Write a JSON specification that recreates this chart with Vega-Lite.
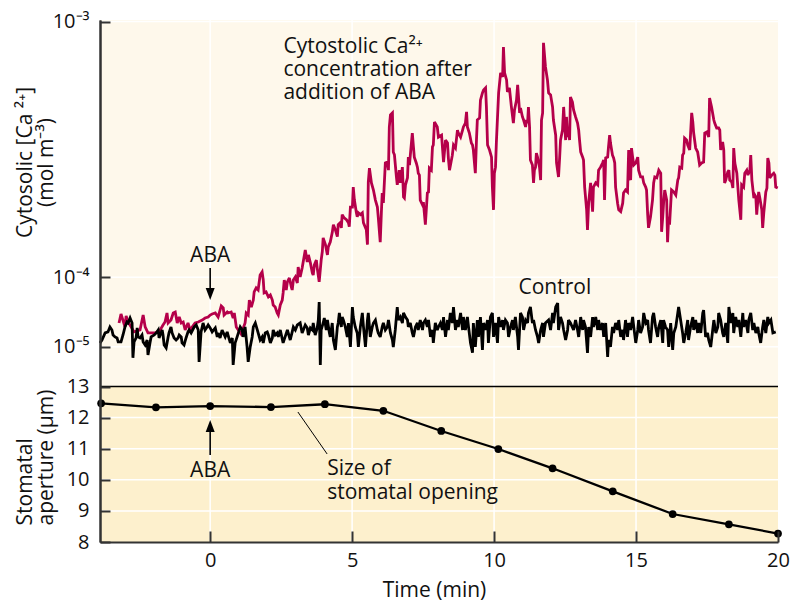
{
"$schema": "https://vega.github.io/schema/vega-lite/v6.json",
"width": 678, "height": 522,
"autosize": {"type": "none"},
"padding": {"left": 100, "top": 20, "right": 26, "bottom": 59},
"background": "#ffffff",
"config": {"view": {"fill": "#FEF8EB", "stroke": null}, "font": "Open Sans", "text": {"font": "Open Sans"}},
"datasets": {
"aba": [
{"t":-3.21,"ca":3.15e-5},{"t":-3.14,"ca":4.23e-5},{"t":-3.00,"ca":2.72e-5},{"t":-2.96,"ca":3.98e-5},{"t":-2.89,"ca":3.26e-5},{"t":-2.68,"ca":2.22e-5},{"t":-2.47,"ca":2.41e-5},{"t":-2.36,"ca":4.10e-5},{"t":-2.29,"ca":2.72e-5},{"t":-2.19,"ca":2.12e-5},{"t":-1.94,"ca":2.12e-5},{"t":-1.76,"ca":2.41e-5},{"t":-1.66,"ca":2.93e-5},{"t":-1.59,"ca":3.26e-5},{"t":-1.52,"ca":4.36e-5},{"t":-1.48,"ca":3.15e-5},{"t":-1.38,"ca":3.49e-5},{"t":-1.30,"ca":4.36e-5},{"t":-1.23,"ca":4.49e-5},{"t":-1.16,"ca":3.15e-5},{"t":-1.09,"ca":3.85e-5},{"t":-1.02,"ca":3.15e-5},{"t":-0.95,"ca":3.26e-5},{"t":-0.88,"ca":2.41e-5},{"t":-0.78,"ca":3.15e-5},{"t":-0.71,"ca":2.41e-5},{"t":-0.53,"ca":3.15e-5},{"t":-0.42,"ca":3.26e-5},{"t":-0.28,"ca":3.49e-5},{"t":-0.18,"ca":3.73e-5},{"t":-0.07,"ca":3.85e-5},{"t":0.00,"ca":4.10e-5},{"t":0.07,"ca":4.23e-5},{"t":0.18,"ca":4.36e-5},{"t":0.28,"ca":3.85e-5},{"t":0.39,"ca":5.30e-5},{"t":0.46,"ca":5.03e-5},{"t":0.49,"ca":4.10e-5},{"t":0.60,"ca":4.49e-5},{"t":0.63,"ca":4.36e-5},{"t":0.74,"ca":4.49e-5},{"t":0.81,"ca":3.73e-5},{"t":0.85,"ca":4.36e-5},{"t":0.92,"ca":2.72e-5},{"t":0.99,"ca":2.41e-5},{"t":1.09,"ca":2.02e-5},{"t":1.23,"ca":3.15e-5},{"t":1.27,"ca":4.36e-5},{"t":1.34,"ca":4.10e-5},{"t":1.38,"ca":6.17e-5},{"t":1.45,"ca":5.16e-5},{"t":1.52,"ca":6.17e-5},{"t":1.55,"ca":7.44e-5},{"t":1.62,"ca":8.10e-5},{"t":1.69,"ca":7.76e-5},{"t":1.76,"ca":10.4e-5},{"t":1.83,"ca":11.0e-5},{"t":1.87,"ca":9.49e-5},{"t":1.90,"ca":7.28e-5},{"t":1.97,"ca":7.44e-5},{"t":2.05,"ca":6.64e-5},{"t":2.12,"ca":6.95e-5},{"t":2.19,"ca":6.17e-5},{"t":2.22,"ca":5.44e-5},{"t":2.29,"ca":5.16e-5},{"t":2.36,"ca":4.36e-5},{"t":2.40,"ca":4.10e-5},{"t":2.47,"ca":5.44e-5},{"t":2.54,"ca":6.17e-5},{"t":2.57,"ca":7.28e-5},{"t":2.61,"ca":9.49e-5},{"t":2.68,"ca":7.76e-5},{"t":2.72,"ca":9.15e-5},{"t":2.79,"ca":9.87e-5},{"t":2.86,"ca":8.25e-5},{"t":2.89,"ca":7.76e-5},{"t":2.93,"ca":9.49e-5},{"t":3.00,"ca":10.05e-5},{"t":3.07,"ca":8.95e-5},{"t":3.10,"ca":11.97e-5},{"t":3.17,"ca":10.05e-5},{"t":3.24,"ca":11.77e-5},{"t":3.35,"ca":15.6e-5},{"t":3.42,"ca":13.0e-5},{"t":3.46,"ca":14.5e-5},{"t":3.53,"ca":12.8e-5},{"t":3.60,"ca":10.8e-5},{"t":3.63,"ca":10.4e-5},{"t":3.67,"ca":12.4e-5},{"t":3.74,"ca":13.4e-5},{"t":3.77,"ca":11.8e-5},{"t":3.84,"ca":9.15e-5},{"t":3.91,"ca":13.4e-5},{"t":3.95,"ca":15.2e-5},{"t":3.98,"ca":18.4e-5},{"t":4.06,"ca":16.8e-5},{"t":4.13,"ca":14.5e-5},{"t":4.16,"ca":16.3e-5},{"t":4.23,"ca":17.4e-5},{"t":4.30,"ca":19.7e-5},{"t":4.34,"ca":21.7e-5},{"t":4.41,"ca":20.4e-5},{"t":4.48,"ca":18.7e-5},{"t":4.51,"ca":21.7e-5},{"t":4.58,"ca":22.2e-5},{"t":4.62,"ca":20.9e-5},{"t":4.65,"ca":24.4e-5},{"t":4.72,"ca":23.5e-5},{"t":4.80,"ca":23.0e-5},{"t":4.87,"ca":22.2e-5},{"t":4.90,"ca":21.2e-5},{"t":4.94,"ca":26.5e-5},{"t":5.01,"ca":26.5e-5},{"t":5.04,"ca":32.4e-5},{"t":5.08,"ca":28.5e-5},{"t":5.15,"ca":24.9e-5},{"t":5.18,"ca":23.8e-5},{"t":5.22,"ca":24.9e-5},{"t":5.29,"ca":24.4e-5},{"t":5.36,"ca":24.9e-5},{"t":5.40,"ca":22.2e-5},{"t":5.50,"ca":20.4e-5},{"t":5.54,"ca":16.8e-5},{"t":5.57,"ca":34.0e-5},{"t":5.61,"ca":38.5e-5},{"t":5.68,"ca":33.7e-5},{"t":5.75,"ca":31.5e-5},{"t":5.82,"ca":28.5e-5},{"t":5.89,"ca":26.5e-5},{"t":5.92,"ca":23.8e-5},{"t":5.99,"ca":17.4e-5},{"t":6.03,"ca":24.9e-5},{"t":6.06,"ca":30.6e-5},{"t":6.10,"ca":27.7e-5},{"t":6.17,"ca":40.2e-5},{"t":6.24,"ca":40.5e-5},{"t":6.28,"ca":37.8e-5},{"t":6.31,"ca":53.2e-5},{"t":6.35,"ca":57.9e-5},{"t":6.42,"ca":58.7e-5},{"t":6.45,"ca":44.0e-5},{"t":6.49,"ca":43.0e-5},{"t":6.56,"ca":35.6e-5},{"t":6.59,"ca":33.1e-5},{"t":6.63,"ca":35.6e-5},{"t":6.66,"ca":37.8e-5},{"t":6.70,"ca":33.7e-5},{"t":6.77,"ca":38.8e-5},{"t":6.81,"ca":29.4e-5},{"t":6.84,"ca":29.1e-5},{"t":6.88,"ca":33.1e-5},{"t":6.95,"ca":35.3e-5},{"t":6.98,"ca":42.2e-5},{"t":7.02,"ca":39.5e-5},{"t":7.05,"ca":42.9e-5},{"t":7.12,"ca":50.9e-5},{"t":7.16,"ca":45.8e-5},{"t":7.19,"ca":42.2e-5},{"t":7.26,"ca":40.2e-5},{"t":7.30,"ca":38.8e-5},{"t":7.33,"ca":36.8e-5},{"t":7.37,"ca":36.2e-5},{"t":7.40,"ca":28.5e-5},{"t":7.48,"ca":27.1e-5},{"t":7.51,"ca":27.9e-5},{"t":7.58,"ca":21.7e-5},{"t":7.65,"ca":30.6e-5},{"t":7.69,"ca":30.9e-5},{"t":7.72,"ca":38.5e-5},{"t":7.79,"ca":37.8e-5},{"t":7.83,"ca":45.8e-5},{"t":7.86,"ca":46.5e-5},{"t":7.90,"ca":55.1e-5},{"t":8.00,"ca":53.2e-5},{"t":8.04,"ca":49.4e-5},{"t":8.15,"ca":50.1e-5},{"t":8.22,"ca":40.5e-5},{"t":8.29,"ca":48.3e-5},{"t":8.36,"ca":47.2e-5},{"t":8.39,"ca":41.9e-5},{"t":8.43,"ca":37.8e-5},{"t":8.53,"ca":42.9e-5},{"t":8.57,"ca":46.5e-5},{"t":8.64,"ca":45.4e-5},{"t":8.71,"ca":52.0e-5},{"t":8.74,"ca":50.9e-5},{"t":8.82,"ca":49.4e-5},{"t":8.89,"ca":52.0e-5},{"t":8.92,"ca":53.2e-5},{"t":8.99,"ca":54.7e-5},{"t":9.03,"ca":59.1e-5},{"t":9.06,"ca":53.2e-5},{"t":9.13,"ca":50.9e-5},{"t":9.20,"ca":47.2e-5},{"t":9.24,"ca":46.5e-5},{"t":9.27,"ca":44.7e-5},{"t":9.34,"ca":36.8e-5},{"t":9.38,"ca":48.3e-5},{"t":9.41,"ca":55.9e-5},{"t":9.49,"ca":56.7e-5},{"t":9.52,"ca":63.9e-5},{"t":9.59,"ca":66.9e-5},{"t":9.63,"ca":68.2e-5},{"t":9.70,"ca":69.1e-5},{"t":9.73,"ca":61.1e-5},{"t":9.77,"ca":46.5e-5},{"t":9.84,"ca":44.7e-5},{"t":9.91,"ca":42.2e-5},{"t":9.94,"ca":32.4e-5},{"t":9.98,"ca":25.7e-5},{"t":10.01,"ca":36.8e-5},{"t":10.05,"ca":38.8e-5},{"t":10.08,"ca":47.2e-5},{"t":10.16,"ca":66.9e-5},{"t":10.23,"ca":75.6e-5},{"t":10.30,"ca":73.8e-5},{"t":10.33,"ca":87.5e-5},{"t":10.37,"ca":75.6e-5},{"t":10.44,"ca":72.5e-5},{"t":10.47,"ca":67.3e-5},{"t":10.54,"ca":69.1e-5},{"t":10.61,"ca":61.1e-5},{"t":10.68,"ca":54.7e-5},{"t":10.72,"ca":59.9e-5},{"t":10.79,"ca":63.9e-5},{"t":10.83,"ca":70.4e-5},{"t":10.90,"ca":58.7e-5},{"t":10.93,"ca":60.7e-5},{"t":11.00,"ca":57.1e-5},{"t":11.04,"ca":55.9e-5},{"t":11.11,"ca":53.2e-5},{"t":11.14,"ca":55.9e-5},{"t":11.18,"ca":54.7e-5},{"t":11.21,"ca":61.1e-5},{"t":11.25,"ca":53.2e-5},{"t":11.28,"ca":41.2e-5},{"t":11.35,"ca":39.5e-5},{"t":11.39,"ca":33.7e-5},{"t":11.42,"ca":37.8e-5},{"t":11.46,"ca":38.8e-5},{"t":11.49,"ca":43.6e-5},{"t":11.53,"ca":42.2e-5},{"t":11.60,"ca":38.8e-5},{"t":11.64,"ca":34.6e-5},{"t":11.67,"ca":55.9e-5},{"t":11.71,"ca":58.7e-5},{"t":11.74,"ca":89.5e-5},{"t":11.81,"ca":78.3e-5},{"t":11.88,"ca":72.5e-5},{"t":11.92,"ca":66.9e-5},{"t":11.99,"ca":66.1e-5},{"t":12.06,"ca":61.1e-5},{"t":12.09,"ca":55.9e-5},{"t":12.17,"ca":50.1e-5},{"t":12.20,"ca":40.2e-5},{"t":12.27,"ca":35.6e-5},{"t":12.31,"ca":42.2e-5},{"t":12.34,"ca":48.3e-5},{"t":12.41,"ca":52.0e-5},{"t":12.45,"ca":61.1e-5},{"t":12.52,"ca":48.3e-5},{"t":12.55,"ca":57.1e-5},{"t":12.59,"ca":49.4e-5},{"t":12.62,"ca":51.3e-5},{"t":12.66,"ca":48.3e-5},{"t":12.69,"ca":65.2e-5},{"t":12.76,"ca":63.1e-5},{"t":12.80,"ca":59.9e-5},{"t":12.87,"ca":57.1e-5},{"t":12.94,"ca":54.7e-5},{"t":12.98,"ca":52.0e-5},{"t":13.01,"ca":48.3e-5},{"t":13.05,"ca":44.0e-5},{"t":13.12,"ca":42.2e-5},{"t":13.15,"ca":41.2e-5},{"t":13.19,"ca":32.4e-5},{"t":13.26,"ca":25.7e-5},{"t":13.29,"ca":20.4e-5},{"t":13.33,"ca":27.6e-5},{"t":13.40,"ca":33.7e-5},{"t":13.47,"ca":25.2e-5},{"t":13.50,"ca":32.4e-5},{"t":13.58,"ca":33.7e-5},{"t":13.65,"ca":33.1e-5},{"t":13.68,"ca":37.8e-5},{"t":13.75,"ca":38.8e-5},{"t":13.82,"ca":40.2e-5},{"t":13.86,"ca":41.2e-5},{"t":13.89,"ca":28.5e-5},{"t":13.93,"ca":41.9e-5},{"t":14.00,"ca":42.2e-5},{"t":14.03,"ca":45.8e-5},{"t":14.07,"ca":50.1e-5},{"t":14.10,"ca":47.2e-5},{"t":14.17,"ca":42.9e-5},{"t":14.21,"ca":41.9e-5},{"t":14.25,"ca":40.2e-5},{"t":14.28,"ca":32.4e-5},{"t":14.35,"ca":27.6e-5},{"t":14.39,"ca":25.7e-5},{"t":14.46,"ca":25.2e-5},{"t":14.53,"ca":27.6e-5},{"t":14.56,"ca":30.6e-5},{"t":14.63,"ca":31.5e-5},{"t":14.70,"ca":30.9e-5},{"t":14.74,"ca":44.7e-5},{"t":14.77,"ca":35.6e-5},{"t":14.81,"ca":34.6e-5},{"t":14.84,"ca":45.4e-5},{"t":14.88,"ca":42.2e-5},{"t":14.92,"ca":39.5e-5},{"t":14.99,"ca":40.2e-5},{"t":15.06,"ca":42.2e-5},{"t":15.09,"ca":37.8e-5},{"t":15.16,"ca":35.6e-5},{"t":15.23,"ca":35.6e-5},{"t":15.27,"ca":33.7e-5},{"t":15.34,"ca":32.4e-5},{"t":15.37,"ca":31.5e-5},{"t":15.41,"ca":24.4e-5},{"t":15.44,"ca":20.9e-5},{"t":15.51,"ca":23.8e-5},{"t":15.58,"ca":28.5e-5},{"t":15.62,"ca":33.7e-5},{"t":15.66,"ca":35.6e-5},{"t":15.73,"ca":35.3e-5},{"t":15.80,"ca":37.8e-5},{"t":15.87,"ca":36.8e-5},{"t":15.90,"ca":19.9e-5},{"t":15.94,"ca":23.8e-5},{"t":15.97,"ca":27.6e-5},{"t":16.01,"ca":31.5e-5},{"t":16.08,"ca":28.5e-5},{"t":16.11,"ca":17.4e-5},{"t":16.15,"ca":23.8e-5},{"t":16.18,"ca":21.7e-5},{"t":16.25,"ca":31.5e-5},{"t":16.33,"ca":30.9e-5},{"t":16.40,"ca":30.0e-5},{"t":16.47,"ca":34.6e-5},{"t":16.50,"ca":35.3e-5},{"t":16.54,"ca":38.8e-5},{"t":16.61,"ca":38.5e-5},{"t":16.64,"ca":42.9e-5},{"t":16.68,"ca":43.6e-5},{"t":16.71,"ca":49.0e-5},{"t":16.78,"ca":48.3e-5},{"t":16.82,"ca":46.5e-5},{"t":16.89,"ca":44.7e-5},{"t":16.96,"ca":58.7e-5},{"t":17.00,"ca":55.1e-5},{"t":17.03,"ca":50.9e-5},{"t":17.10,"ca":45.4e-5},{"t":17.17,"ca":44.0e-5},{"t":17.24,"ca":39.5e-5},{"t":17.31,"ca":40.2e-5},{"t":17.38,"ca":40.5e-5},{"t":17.42,"ca":50.9e-5},{"t":17.49,"ca":51.3e-5},{"t":17.56,"ca":49.4e-5},{"t":17.59,"ca":64.8e-5},{"t":17.66,"ca":61.1e-5},{"t":17.74,"ca":55.9e-5},{"t":17.77,"ca":54.7e-5},{"t":17.84,"ca":52.8e-5},{"t":17.91,"ca":52.8e-5},{"t":17.95,"ca":52.0e-5},{"t":17.98,"ca":44.7e-5},{"t":18.05,"ca":47.6e-5},{"t":18.09,"ca":44.7e-5},{"t":18.12,"ca":33.7e-5},{"t":18.16,"ca":34.6e-5},{"t":18.23,"ca":37.2e-5},{"t":18.27,"ca":37.8e-5},{"t":18.30,"ca":34.6e-5},{"t":18.37,"ca":34.0e-5},{"t":18.41,"ca":32.1e-5},{"t":18.44,"ca":45.4e-5},{"t":18.48,"ca":40.2e-5},{"t":18.55,"ca":36.8e-5},{"t":18.62,"ca":28.5e-5},{"t":18.69,"ca":23.0e-5},{"t":18.72,"ca":33.1e-5},{"t":18.79,"ca":32.4e-5},{"t":18.83,"ca":36.8e-5},{"t":18.90,"ca":37.8e-5},{"t":18.94,"ca":36.2e-5},{"t":19.01,"ca":37.8e-5},{"t":19.04,"ca":42.9e-5},{"t":19.08,"ca":34.6e-5},{"t":19.15,"ca":29.1e-5},{"t":19.18,"ca":30.0e-5},{"t":19.22,"ca":29.4e-5},{"t":19.25,"ca":24.4e-5},{"t":19.29,"ca":28.5e-5},{"t":19.32,"ca":30.9e-5},{"t":19.36,"ca":29.1e-5},{"t":19.43,"ca":25.7e-5},{"t":19.46,"ca":20.9e-5},{"t":19.50,"ca":24.9e-5},{"t":19.57,"ca":30.9e-5},{"t":19.61,"ca":32.1e-5},{"t":19.64,"ca":41.9e-5},{"t":19.68,"ca":40.2e-5},{"t":19.71,"ca":35.3e-5},{"t":19.78,"ca":36.2e-5},{"t":19.85,"ca":36.8e-5},{"t":19.89,"ca":36.2e-5},{"t":19.92,"ca":32.4e-5},{"t":19.99,"ca":32.1e-5}
],
"control": [
{"t":-3.88,"ca":1.27e-5},{"t":-3.81,"ca":1.50e-5},{"t":-3.70,"ca":2.12e-5},{"t":-3.60,"ca":2.22e-5},{"t":-3.53,"ca":2.72e-5},{"t":-3.46,"ca":2.41e-5},{"t":-3.42,"ca":1.93e-5},{"t":-3.35,"ca":1.76e-5},{"t":-3.28,"ca":1.67e-5},{"t":-3.24,"ca":1.35e-5},{"t":-3.14,"ca":1.35e-5},{"t":-3.07,"ca":1.93e-5},{"t":-3.00,"ca":2.72e-5},{"t":-2.93,"ca":3.26e-5},{"t":-2.89,"ca":3.15e-5},{"t":-2.82,"ca":3.73e-5},{"t":-2.75,"ca":3.15e-5},{"t":-2.72,"ca":0.37e-5},{"t":-2.68,"ca":1.35e-5},{"t":-2.61,"ca":1.67e-5},{"t":-2.57,"ca":2.62e-5},{"t":-2.54,"ca":1.76e-5},{"t":-2.47,"ca":1.67e-5},{"t":-2.40,"ca":1.93e-5},{"t":-2.36,"ca":1.35e-5},{"t":-2.29,"ca":1.12e-5},{"t":-2.22,"ca":1.50e-5},{"t":-2.19,"ca":0.505e-5},{"t":-2.12,"ca":1.27e-5},{"t":-2.08,"ca":1.76e-5},{"t":-1.97,"ca":1.93e-5},{"t":-1.90,"ca":2.12e-5},{"t":-1.83,"ca":2.41e-5},{"t":-1.80,"ca":1.67e-5},{"t":-1.76,"ca":1.93e-5},{"t":-1.69,"ca":2.41e-5},{"t":-1.66,"ca":1.93e-5},{"t":-1.62,"ca":1.12e-5},{"t":-1.55,"ca":0.92e-5},{"t":-1.48,"ca":1.76e-5},{"t":-1.45,"ca":2.12e-5},{"t":-1.38,"ca":2.72e-5},{"t":-1.34,"ca":2.12e-5},{"t":-1.27,"ca":1.67e-5},{"t":-1.20,"ca":1.50e-5},{"t":-1.13,"ca":1.67e-5},{"t":-1.09,"ca":1.93e-5},{"t":-1.02,"ca":1.76e-5},{"t":-0.99,"ca":1.27e-5},{"t":-0.92,"ca":1.12e-5},{"t":-0.85,"ca":1.67e-5},{"t":-0.78,"ca":2.22e-5},{"t":-0.74,"ca":2.41e-5},{"t":-0.67,"ca":2.12e-5},{"t":-0.56,"ca":2.72e-5},{"t":-0.49,"ca":2.93e-5},{"t":-0.42,"ca":2.41e-5},{"t":-0.39,"ca":0.21e-5},{"t":-0.32,"ca":2.22e-5},{"t":-0.25,"ca":3.15e-5},{"t":-0.18,"ca":2.41e-5},{"t":-0.11,"ca":2.72e-5},{"t":-0.07,"ca":2.93e-5},{"t":0.00,"ca":2.62e-5},{"t":0.07,"ca":2.22e-5},{"t":0.18,"ca":2.62e-5},{"t":0.25,"ca":1.76e-5},{"t":0.28,"ca":2.12e-5},{"t":0.35,"ca":1.67e-5},{"t":0.42,"ca":2.41e-5},{"t":0.53,"ca":1.76e-5},{"t":0.60,"ca":2.22e-5},{"t":0.63,"ca":1.93e-5},{"t":0.71,"ca":1.27e-5},{"t":0.78,"ca":1.67e-5},{"t":0.81,"ca":0.115e-5},{"t":0.88,"ca":1.27e-5},{"t":0.95,"ca":1.76e-5},{"t":1.06,"ca":2.72e-5},{"t":1.13,"ca":2.41e-5},{"t":1.16,"ca":1.76e-5},{"t":1.23,"ca":2.72e-5},{"t":1.30,"ca":0.98e-5},{"t":1.34,"ca":0.21e-5},{"t":1.41,"ca":0.98e-5},{"t":1.48,"ca":1.76e-5},{"t":1.52,"ca":2.72e-5},{"t":1.59,"ca":3.15e-5},{"t":1.66,"ca":2.41e-5},{"t":1.76,"ca":1.50e-5},{"t":1.83,"ca":1.76e-5},{"t":1.87,"ca":1.27e-5},{"t":1.94,"ca":2.12e-5},{"t":2.01,"ca":2.22e-5},{"t":2.05,"ca":1.93e-5},{"t":2.12,"ca":1.27e-5},{"t":2.19,"ca":1.67e-5},{"t":2.22,"ca":2.41e-5},{"t":2.29,"ca":1.93e-5},{"t":2.36,"ca":2.12e-5},{"t":2.40,"ca":1.76e-5},{"t":2.47,"ca":2.41e-5},{"t":2.57,"ca":1.27e-5},{"t":2.64,"ca":1.76e-5},{"t":2.72,"ca":2.41e-5},{"t":2.82,"ca":1.50e-5},{"t":2.89,"ca":2.22e-5},{"t":2.93,"ca":2.72e-5},{"t":3.00,"ca":2.41e-5},{"t":3.07,"ca":2.93e-5},{"t":3.17,"ca":3.15e-5},{"t":3.24,"ca":2.12e-5},{"t":3.35,"ca":2.93e-5},{"t":3.42,"ca":2.62e-5},{"t":3.46,"ca":1.93e-5},{"t":3.53,"ca":2.62e-5},{"t":3.60,"ca":2.41e-5},{"t":3.63,"ca":3.15e-5},{"t":3.70,"ca":1.93e-5},{"t":3.77,"ca":2.62e-5},{"t":3.81,"ca":3.49e-5},{"t":3.84,"ca":5.88e-5},{"t":3.88,"ca":0.115e-5},{"t":3.91,"ca":2.41e-5},{"t":3.98,"ca":3.15e-5},{"t":4.02,"ca":3.73e-5},{"t":4.09,"ca":2.41e-5},{"t":4.13,"ca":3.49e-5},{"t":4.20,"ca":2.12e-5},{"t":4.23,"ca":1.76e-5},{"t":4.30,"ca":3.15e-5},{"t":4.34,"ca":1.50e-5},{"t":4.41,"ca":0.785e-5},{"t":4.48,"ca":2.72e-5},{"t":4.51,"ca":3.15e-5},{"t":4.55,"ca":4.36e-5},{"t":4.62,"ca":2.72e-5},{"t":4.65,"ca":3.85e-5},{"t":4.69,"ca":3.49e-5},{"t":4.76,"ca":2.72e-5},{"t":4.83,"ca":1.76e-5},{"t":4.87,"ca":3.15e-5},{"t":4.94,"ca":0.98e-5},{"t":5.01,"ca":5.16e-5},{"t":5.04,"ca":3.85e-5},{"t":5.11,"ca":2.72e-5},{"t":5.18,"ca":2.12e-5},{"t":5.22,"ca":0.98e-5},{"t":5.29,"ca":2.72e-5},{"t":5.36,"ca":4.36e-5},{"t":5.40,"ca":2.72e-5},{"t":5.47,"ca":0.98e-5},{"t":5.54,"ca":3.49e-5},{"t":5.57,"ca":4.36e-5},{"t":5.64,"ca":1.76e-5},{"t":5.71,"ca":2.72e-5},{"t":5.75,"ca":3.15e-5},{"t":5.82,"ca":3.49e-5},{"t":5.89,"ca":2.41e-5},{"t":5.92,"ca":2.12e-5},{"t":5.99,"ca":1.76e-5},{"t":6.06,"ca":2.72e-5},{"t":6.10,"ca":3.15e-5},{"t":6.17,"ca":2.41e-5},{"t":6.24,"ca":2.72e-5},{"t":6.28,"ca":3.49e-5},{"t":6.35,"ca":2.12e-5},{"t":6.42,"ca":1.50e-5},{"t":6.45,"ca":0.98e-5},{"t":6.52,"ca":2.41e-5},{"t":6.59,"ca":5.16e-5},{"t":6.63,"ca":3.49e-5},{"t":6.70,"ca":3.85e-5},{"t":6.77,"ca":3.15e-5},{"t":6.81,"ca":4.36e-5},{"t":6.88,"ca":3.85e-5},{"t":6.95,"ca":3.49e-5},{"t":6.98,"ca":2.72e-5},{"t":7.05,"ca":3.15e-5},{"t":7.12,"ca":2.12e-5},{"t":7.16,"ca":1.76e-5},{"t":7.23,"ca":2.72e-5},{"t":7.30,"ca":3.15e-5},{"t":7.33,"ca":2.41e-5},{"t":7.40,"ca":3.49e-5},{"t":7.48,"ca":2.41e-5},{"t":7.51,"ca":3.15e-5},{"t":7.58,"ca":3.49e-5},{"t":7.65,"ca":2.72e-5},{"t":7.69,"ca":3.49e-5},{"t":7.76,"ca":1.76e-5},{"t":7.83,"ca":2.41e-5},{"t":7.86,"ca":1.27e-5},{"t":7.93,"ca":3.15e-5},{"t":8.00,"ca":2.41e-5},{"t":8.04,"ca":2.72e-5},{"t":8.11,"ca":3.15e-5},{"t":8.18,"ca":2.41e-5},{"t":8.22,"ca":3.85e-5},{"t":8.29,"ca":1.76e-5},{"t":8.36,"ca":3.49e-5},{"t":8.39,"ca":2.41e-5},{"t":8.46,"ca":4.36e-5},{"t":8.53,"ca":3.15e-5},{"t":8.57,"ca":5.16e-5},{"t":8.64,"ca":2.41e-5},{"t":8.71,"ca":3.49e-5},{"t":8.74,"ca":2.72e-5},{"t":8.82,"ca":4.36e-5},{"t":8.89,"ca":2.41e-5},{"t":8.92,"ca":3.85e-5},{"t":8.99,"ca":2.41e-5},{"t":9.06,"ca":3.85e-5},{"t":9.10,"ca":2.72e-5},{"t":9.17,"ca":1.27e-5},{"t":9.24,"ca":0.62e-5},{"t":9.27,"ca":3.15e-5},{"t":9.34,"ca":0.98e-5},{"t":9.41,"ca":3.49e-5},{"t":9.45,"ca":1.76e-5},{"t":9.52,"ca":3.85e-5},{"t":9.59,"ca":0.785e-5},{"t":9.63,"ca":3.15e-5},{"t":9.70,"ca":2.41e-5},{"t":9.77,"ca":3.49e-5},{"t":9.80,"ca":1.27e-5},{"t":9.87,"ca":3.85e-5},{"t":9.94,"ca":4.36e-5},{"t":9.98,"ca":1.76e-5},{"t":10.05,"ca":3.15e-5},{"t":10.12,"ca":1.27e-5},{"t":10.16,"ca":3.85e-5},{"t":10.23,"ca":2.72e-5},{"t":10.30,"ca":3.49e-5},{"t":10.33,"ca":2.41e-5},{"t":10.40,"ca":3.49e-5},{"t":10.47,"ca":3.15e-5},{"t":10.51,"ca":1.76e-5},{"t":10.58,"ca":2.72e-5},{"t":10.65,"ca":3.49e-5},{"t":10.68,"ca":2.41e-5},{"t":10.75,"ca":3.85e-5},{"t":10.83,"ca":1.76e-5},{"t":10.86,"ca":0.785e-5},{"t":10.93,"ca":4.36e-5},{"t":11.00,"ca":3.85e-5},{"t":11.04,"ca":2.41e-5},{"t":11.11,"ca":3.49e-5},{"t":11.18,"ca":3.15e-5},{"t":11.21,"ca":4.36e-5},{"t":11.28,"ca":5.16e-5},{"t":11.35,"ca":3.15e-5},{"t":11.39,"ca":3.49e-5},{"t":11.46,"ca":2.41e-5},{"t":11.53,"ca":1.76e-5},{"t":11.57,"ca":1.27e-5},{"t":11.64,"ca":2.41e-5},{"t":11.71,"ca":3.15e-5},{"t":11.74,"ca":1.76e-5},{"t":11.81,"ca":3.15e-5},{"t":11.92,"ca":3.49e-5},{"t":11.99,"ca":2.41e-5},{"t":12.06,"ca":4.36e-5},{"t":12.09,"ca":3.15e-5},{"t":12.17,"ca":5.16e-5},{"t":12.24,"ca":5.73e-5},{"t":12.27,"ca":2.41e-5},{"t":12.34,"ca":3.85e-5},{"t":12.41,"ca":3.15e-5},{"t":12.45,"ca":2.41e-5},{"t":12.52,"ca":1.50e-5},{"t":12.59,"ca":2.41e-5},{"t":12.62,"ca":3.49e-5},{"t":12.69,"ca":3.15e-5},{"t":12.80,"ca":2.41e-5},{"t":12.87,"ca":3.49e-5},{"t":12.94,"ca":2.41e-5},{"t":12.98,"ca":1.76e-5},{"t":13.05,"ca":3.85e-5},{"t":13.12,"ca":2.41e-5},{"t":13.15,"ca":3.49e-5},{"t":13.22,"ca":2.72e-5},{"t":13.29,"ca":0.62e-5},{"t":13.33,"ca":2.72e-5},{"t":13.40,"ca":1.76e-5},{"t":13.47,"ca":3.85e-5},{"t":13.50,"ca":2.72e-5},{"t":13.58,"ca":3.85e-5},{"t":13.65,"ca":2.41e-5},{"t":13.68,"ca":3.49e-5},{"t":13.75,"ca":2.41e-5},{"t":13.82,"ca":3.15e-5},{"t":13.86,"ca":1.76e-5},{"t":13.93,"ca":3.15e-5},{"t":14.00,"ca":0.41e-5},{"t":14.03,"ca":1.50e-5},{"t":14.10,"ca":0.98e-5},{"t":14.17,"ca":2.72e-5},{"t":14.21,"ca":2.12e-5},{"t":14.28,"ca":3.15e-5},{"t":14.35,"ca":2.41e-5},{"t":14.39,"ca":3.49e-5},{"t":14.46,"ca":1.76e-5},{"t":14.53,"ca":2.41e-5},{"t":14.56,"ca":1.50e-5},{"t":14.63,"ca":3.49e-5},{"t":14.70,"ca":1.76e-5},{"t":14.74,"ca":3.15e-5},{"t":14.81,"ca":2.41e-5},{"t":14.88,"ca":3.85e-5},{"t":14.92,"ca":2.72e-5},{"t":14.99,"ca":1.27e-5},{"t":15.06,"ca":2.41e-5},{"t":15.09,"ca":3.49e-5},{"t":15.16,"ca":2.12e-5},{"t":15.23,"ca":2.72e-5},{"t":15.27,"ca":4.36e-5},{"t":15.34,"ca":3.15e-5},{"t":15.41,"ca":3.49e-5},{"t":15.44,"ca":2.41e-5},{"t":15.51,"ca":1.27e-5},{"t":15.58,"ca":3.85e-5},{"t":15.62,"ca":4.36e-5},{"t":15.69,"ca":2.72e-5},{"t":15.76,"ca":1.76e-5},{"t":15.80,"ca":2.72e-5},{"t":15.87,"ca":3.49e-5},{"t":15.94,"ca":1.27e-5},{"t":15.97,"ca":3.49e-5},{"t":16.04,"ca":2.72e-5},{"t":16.11,"ca":2.41e-5},{"t":16.15,"ca":0.98e-5},{"t":16.22,"ca":3.15e-5},{"t":16.29,"ca":0.785e-5},{"t":16.33,"ca":2.12e-5},{"t":16.40,"ca":2.72e-5},{"t":16.47,"ca":4.36e-5},{"t":16.50,"ca":5.16e-5},{"t":16.57,"ca":3.49e-5},{"t":16.64,"ca":2.12e-5},{"t":16.68,"ca":1.27e-5},{"t":16.75,"ca":2.12e-5},{"t":16.82,"ca":3.49e-5},{"t":16.85,"ca":1.50e-5},{"t":16.92,"ca":2.72e-5},{"t":17.00,"ca":3.85e-5},{"t":17.03,"ca":2.41e-5},{"t":17.10,"ca":3.49e-5},{"t":17.17,"ca":2.12e-5},{"t":17.21,"ca":3.15e-5},{"t":17.28,"ca":2.12e-5},{"t":17.35,"ca":4.36e-5},{"t":17.38,"ca":4.75e-5},{"t":17.45,"ca":1.76e-5},{"t":17.52,"ca":2.12e-5},{"t":17.56,"ca":1.50e-5},{"t":17.63,"ca":0.98e-5},{"t":17.70,"ca":2.41e-5},{"t":17.74,"ca":3.49e-5},{"t":17.81,"ca":2.12e-5},{"t":17.88,"ca":2.72e-5},{"t":17.91,"ca":4.36e-5},{"t":17.98,"ca":3.49e-5},{"t":18.05,"ca":2.12e-5},{"t":18.09,"ca":1.76e-5},{"t":18.16,"ca":3.15e-5},{"t":18.23,"ca":1.27e-5},{"t":18.27,"ca":5.16e-5},{"t":18.34,"ca":3.15e-5},{"t":18.41,"ca":4.36e-5},{"t":18.44,"ca":2.12e-5},{"t":18.51,"ca":3.85e-5},{"t":18.58,"ca":2.72e-5},{"t":18.62,"ca":3.49e-5},{"t":18.69,"ca":1.76e-5},{"t":18.76,"ca":4.36e-5},{"t":18.79,"ca":2.72e-5},{"t":18.86,"ca":3.49e-5},{"t":18.94,"ca":2.12e-5},{"t":18.97,"ca":3.49e-5},{"t":19.04,"ca":4.36e-5},{"t":19.11,"ca":2.41e-5},{"t":19.15,"ca":3.15e-5},{"t":19.22,"ca":2.12e-5},{"t":19.29,"ca":2.72e-5},{"t":19.32,"ca":2.12e-5},{"t":19.39,"ca":1.27e-5},{"t":19.46,"ca":2.72e-5},{"t":19.50,"ca":3.49e-5},{"t":19.57,"ca":2.12e-5},{"t":19.64,"ca":3.85e-5},{"t":19.68,"ca":3.15e-5},{"t":19.75,"ca":3.49e-5},{"t":19.82,"ca":2.12e-5},{"t":19.92,"ca":2.22e-5}
],
"stomata": [
{"t":-3.84,"ap":12.46},{"t":-1.91,"ap":12.33},{"t":0.0,"ap":12.37},{"t":2.14,"ap":12.34},{"t":4.04,"ap":12.43},{"t":6.1,"ap":12.22},{"t":8.14,"ap":11.57},{"t":10.15,"ap":10.99},{"t":12.06,"ap":10.37},{"t":14.18,"ap":9.63},{"t":16.29,"ap":8.9},{"t":18.27,"ap":8.57},{"t":20.0,"ap":8.27}
],
"xgrid": [{"t":0},{"t":5},{"t":10},{"t":15}],
"topgrid": [{"ca":1e-5},{"ca":1e-4},{"ca":1e-3}],
"botgrid": [{"ap":9},{"ap":10},{"ap":11},{"ap":12}],
"topNotesL": [
{"t":2.58,"ca":8.47e-4,"label":"Cytostolic Ca²⁺\nconcentration after\naddition of ABA"},
{"t":10.86,"ca":7.11e-5,"label":"Control"}
],
"topNotesC": [{"t":0,"ca":1.30e-4,"label":"ABA"}],
"botNotesL": [
{"t":4.12,"ap":10.15,"label":"Size of\nstomatal opening"}
],
"botNotesC": [{"t":0,"ap":10.10,"label":"ABA"}]
},
"layer": [
{
"layer": [
{"data": {"values": [{}]}, "mark": {"type": "rect", "fill": "#FDF0CD"},
 "encoding": {"x": {"datum": -3.88, "type": "quantitative"}, "x2": {"datum": 20}, "y": {"datum": 8, "type": "quantitative"}, "y2": {"datum": 13}}},
{"data": {"name": "xgrid"}, "mark": {"type": "rule", "stroke": "#ffffff", "strokeWidth": 1.5},
 "encoding": {"x": {"field": "t", "type": "quantitative"}}},
{"data": {"name": "botgrid"}, "mark": {"type": "rule", "stroke": "#ffffff", "strokeWidth": 1.5},
 "encoding": {"y": {"field": "ap", "type": "quantitative"}}},
{"data": {"values": [{}]}, "mark": {"type": "rule", "stroke": "#000000", "strokeWidth": 1.5},
 "encoding": {"y": {"datum": 13, "type": "quantitative"}}},
{"data": {"name": "stomata"}, "mark": {"type": "line", "stroke": "#000000", "strokeWidth": 2.3},
 "encoding": {
  "x": {"field": "t", "type": "quantitative", "title": "Time (min)",
   "scale": {"domain": [-3.88, 20], "nice": false, "zero": false},
   "axis": {"values": [0, 5, 10, 15, 20], "grid": false, "zindex": 1, "labelFlush": false, "labelOverlap": false,
    "domainColor": "#333333", "domainWidth": 2, "tickColor": "#333333", "tickWidth": 2, "tickSize": -11,
    "labelPadding": 19, "labelFontSize": 20, "labelColor": "#111111", "labelFont": "Open Sans",
    "titleFontSize": 21, "titleFontWeight": "normal", "titleColor": "#111111", "titleFont": "Open Sans",
    "titleBaseline": "alphabetic", "titleAlign": "center", "titleX": 334, "titleY": 54}},
  "y": {"field": "ap", "type": "quantitative", "title": ["Stomatal", "aperture (μm)"],
   "scale": {"domain": [8, 24.785], "nice": false, "zero": false},
   "axis": {"orient": "left", "values": [8, 9, 10, 11, 12, 13], "grid": false, "zindex": 1, "labelOverlap": false,
    "domainColor": "#333333", "domainWidth": 2, "tickColor": "#333333", "tickWidth": 2, "tickSize": -10,
    "labelPadding": 21, "labelFontSize": 20, "labelColor": "#111111", "labelFont": "Open Sans",
    "titleFontSize": 21, "titleFontWeight": "normal", "titleColor": "#111111", "titleFont": "Open Sans",
    "titleAngle": -90, "titleAlign": "left", "titleBaseline": "alphabetic", "titleLineHeight": 21,
    "titleX": -69, "titleY": 505}}
 }},
{"data": {"name": "stomata"}, "mark": {"type": "point", "shape": "circle", "filled": true, "fill": "#000000", "opacity": 1, "size": 60},
 "encoding": {"x": {"field": "t", "type": "quantitative"}, "y": {"field": "ap", "type": "quantitative"}}},
{"data": {"values": [{}]}, "mark": {"type": "rule", "stroke": "#000000", "strokeWidth": 1.6},
 "encoding": {"x": {"datum": 0, "type": "quantitative"}, "y": {"datum": 10.8, "type": "quantitative"}, "y2": {"datum": 11.6}}},
{"data": {"values": [{}]}, "mark": {"type": "point", "shape": "M-0.75,1L0.75,1L0,-1Z", "filled": true, "fill": "#000000", "opacity": 1, "size": 144, "strokeWidth": 0},
 "encoding": {"x": {"datum": 0, "type": "quantitative"}, "y": {"datum": 11.73, "type": "quantitative"}}},
{"data": {"values": [{}]}, "mark": {"type": "rule", "stroke": "#000000", "strokeWidth": 1},
 "encoding": {"x": {"datum": 3.09, "type": "quantitative"}, "y": {"datum": 12.18, "type": "quantitative"}, "x2": {"datum": 4.12}, "y2": {"datum": 10.83}}},
{"data": {"name": "botNotesC"}, "mark": {"type": "text", "align": "center", "baseline": "alphabetic", "fontSize": 21, "fill": "#111111", "font": "Open Sans"},
 "encoding": {"x": {"field": "t", "type": "quantitative"}, "y": {"field": "ap", "type": "quantitative"}, "text": {"field": "label"}}},
{"data": {"name": "botNotesL"}, "mark": {"type": "text", "align": "left", "baseline": "alphabetic", "fontSize": 21, "fill": "#111111", "font": "Open Sans", "lineBreak": "\n", "lineHeight": 24},
 "encoding": {"x": {"field": "t", "type": "quantitative"}, "y": {"field": "ap", "type": "quantitative"}, "text": {"field": "label"}}}
]
},
{
"layer": [
{"data": {"name": "topgrid"}, "mark": {"type": "rule", "stroke": "#ffffff", "strokeWidth": 1.5},
 "encoding": {"y": {"field": "ca", "type": "quantitative"}}},
{"data": {"name": "aba"}, "mark": {"type": "line", "stroke": "#B5004A", "strokeWidth": 2.8, "strokeJoin": "miter", "strokeMiterLimit": 3},
 "encoding": {
  "x": {"field": "t", "type": "quantitative"},
  "y": {"field": "ca", "type": "quantitative", "title": ["Cytosolic [Ca ²⁺]", "(mol m⁻³)"],
   "scale": {"type": "pow", "exponent": 0.566, "domain": [-0.000276, 0.0010077], "nice": false, "zero": false},
   "axis": {"orient": "left", "values": [0.00001, 0.0001, 0.001], "grid": false, "zindex": 1, "labelOverlap": false,
    "labelExpr": "datum.value > 0.0005 ? '10⁻³' : (datum.value > 0.00005 ? '10⁻⁴' : '10⁻⁵')",
    "domainColor": "#333333", "domainWidth": 2, "tickColor": "#333333", "tickWidth": 2, "tickSize": -10,
    "labelPadding": 21, "labelFontSize": 20, "labelColor": "#111111", "labelFont": "Open Sans",
    "titleFontSize": 21, "titleFontWeight": "normal", "titleColor": "#111111", "titleFont": "Open Sans",
    "titleAngle": -90, "titleAlign": "center", "titleBaseline": "alphabetic", "titleLineHeight": 21,
    "titleX": -69, "titleY": 142}}
 }},
{"data": {"name": "control"}, "mark": {"type": "line", "stroke": "#000000", "strokeWidth": 2.8, "strokeJoin": "miter", "strokeMiterLimit": 3},
 "encoding": {"x": {"field": "t", "type": "quantitative"}, "y": {"field": "ca", "type": "quantitative"}}},
{"data": {"values": [{}]}, "mark": {"type": "rule", "stroke": "#000000", "strokeWidth": 1.6},
 "encoding": {"x": {"datum": 0, "type": "quantitative"}, "y": {"datum": 0.0001178, "type": "quantitative"}, "y2": {"datum": 0.00008}}},
{"data": {"values": [{}]}, "mark": {"type": "point", "shape": "M-0.75,-1L0.75,-1L0,1Z", "filled": true, "fill": "#000000", "opacity": 1, "size": 144, "strokeWidth": 0},
 "encoding": {"x": {"datum": 0, "type": "quantitative"}, "y": {"datum": 0.0000711, "type": "quantitative"}}},
{"data": {"name": "topNotesC"}, "mark": {"type": "text", "align": "center", "baseline": "alphabetic", "fontSize": 21, "fill": "#111111", "font": "Open Sans"},
 "encoding": {"x": {"field": "t", "type": "quantitative"}, "y": {"field": "ca", "type": "quantitative"}, "text": {"field": "label"}}},
{"data": {"name": "topNotesL"}, "mark": {"type": "text", "align": "left", "baseline": "alphabetic", "fontSize": 21, "fill": "#111111", "font": "Open Sans", "lineBreak": "\n", "lineHeight": 23},
 "encoding": {"x": {"field": "t", "type": "quantitative"}, "y": {"field": "ca", "type": "quantitative"}, "text": {"field": "label"}}}
]
}
],
"resolve": {"scale": {"y": "independent"}, "axis": {"y": "independent"}}
}
